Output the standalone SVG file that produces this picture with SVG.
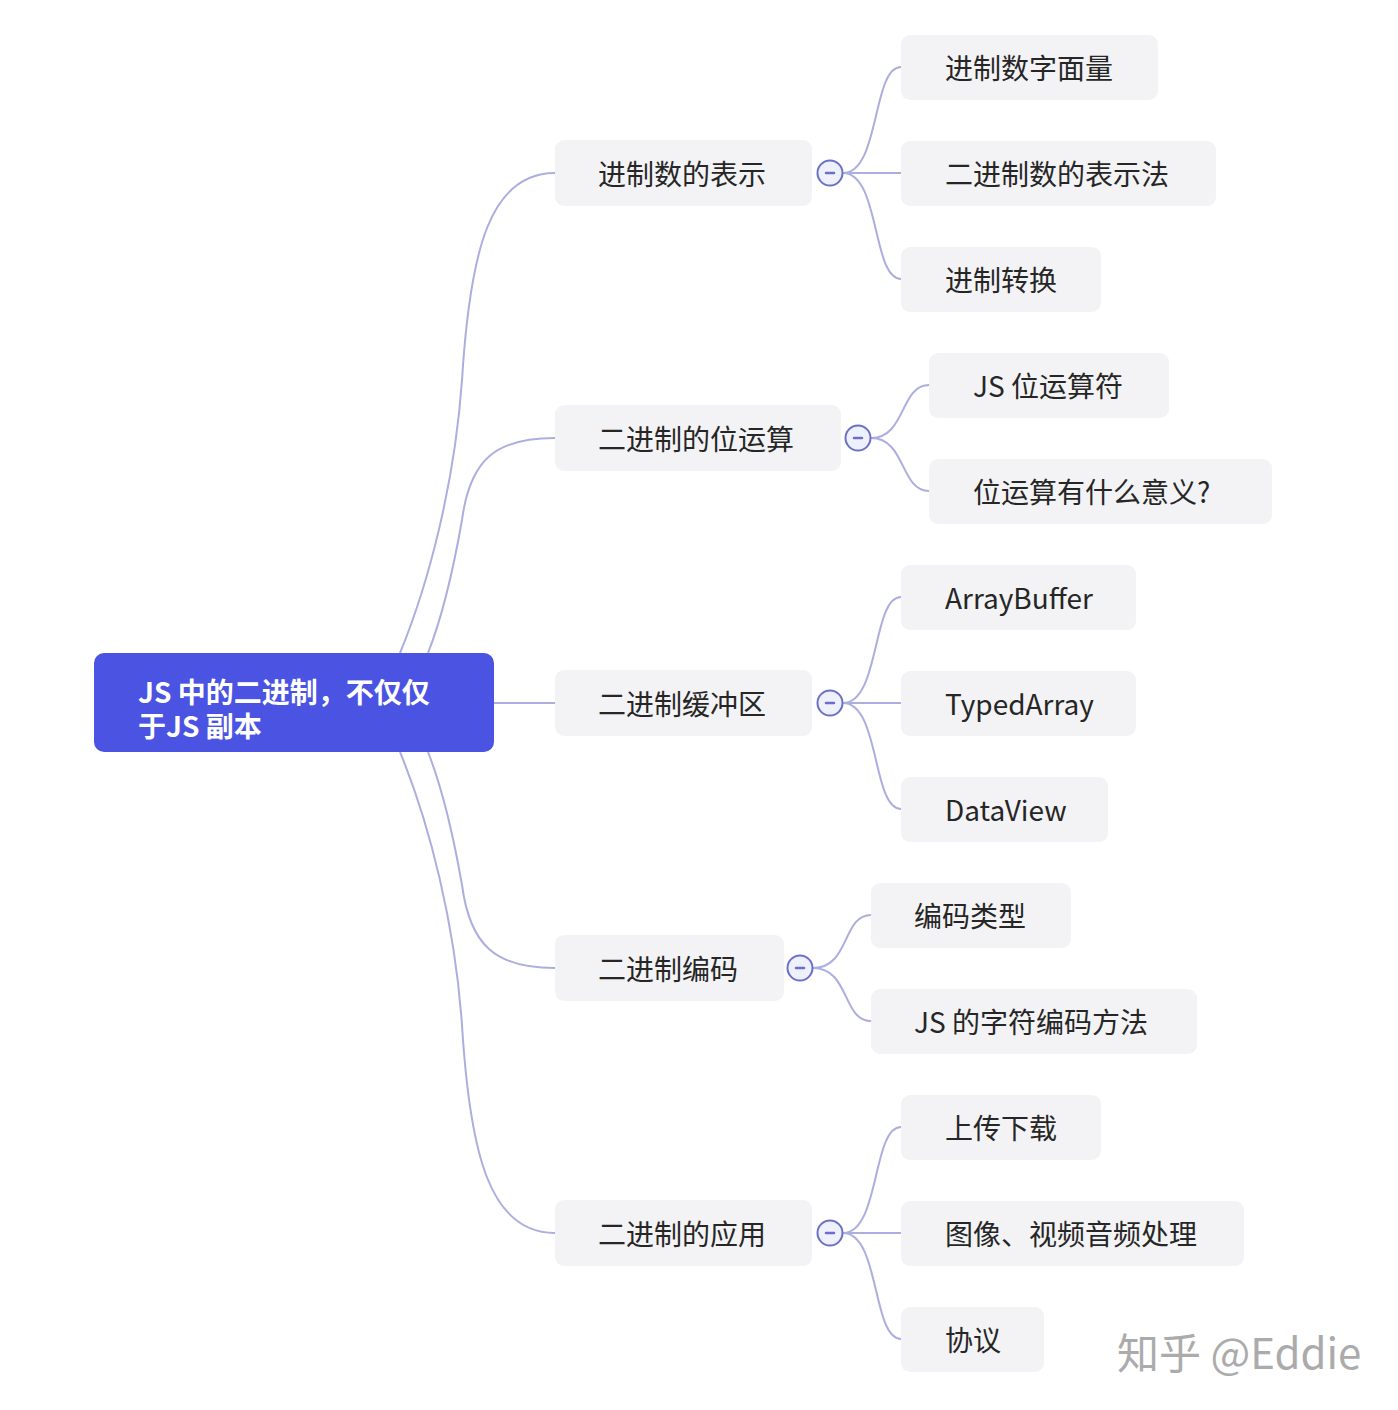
<svg xmlns="http://www.w3.org/2000/svg" width="1398" height="1410" viewBox="0 0 1398 1410">
<style>
.bg{fill:#ffffff}
.root{fill:#4a53e2}
.rt{font-family:"Noto Sans CJK SC","Noto Sans",sans-serif;font-weight:bold;font-size:28px;fill:#ffffff}
.n{fill:#f3f3f5}
.t{font-family:"Noto Sans CJK SC","Noto Sans",sans-serif;font-size:28px;fill:#262626;dominant-baseline:central}
.c{fill:none;stroke:#abaedf;stroke-width:2}
.tg{fill:#eef0fb;stroke:#6a70c8;stroke-width:2}
.tm{stroke:#6a70c8;stroke-width:2.5;stroke-linecap:round}
.wm{font-family:"Noto Sans CJK SC","Noto Sans",sans-serif;font-size:42px;fill:#ababab}
</style>
<rect class="bg" x="0" y="0" width="1398" height="1410"/>
<g id="connectors">
<path class="c" d="M400 653 C430 580 455 480 462 380 C470 250 490 173 555 173"/>
<path class="c" d="M428 653 C445 610 455 560 462 520 C470 460 495 438 555 438"/>
<path class="c" d="M494 703 L555 703"/>
<path class="c" d="M428 752 C445 795 455 845 462 885 C470 945 495 968 555 968"/>
<path class="c" d="M400 752 C430 825 455 925 462 1025 C470 1155 490 1233 555 1233"/>
<path class="c" d="M843 173 C880 173 872 67 901 67"/>
<path class="c" d="M843 173 L901 173"/>
<path class="c" d="M843 173 C880 173 872 279 901 279"/>
<path class="c" d="M871 438 C906 438 900 385 929 385"/>
<path class="c" d="M871 438 C906 438 900 491 929 491"/>
<path class="c" d="M843 703 C880 703 872 597 901 597"/>
<path class="c" d="M843 703 L901 703"/>
<path class="c" d="M843 703 C880 703 872 809 901 809"/>
<path class="c" d="M813 968 C850 968 842 915 871 915"/>
<path class="c" d="M813 968 C850 968 842 1021 871 1021"/>
<path class="c" d="M843 1233 C880 1233 872 1127 901 1127"/>
<path class="c" d="M843 1233 L901 1233"/>
<path class="c" d="M843 1233 C880 1233 872 1339 901 1339"/>
</g>
<g id="root">
<rect class="root" x="94" y="653" width="400" height="99" rx="10"/>
<text class="rt" x="138" y="703">JS 中的二进制，不仅仅<tspan x="138" dy="34">于JS 副本</tspan></text>
</g>
<g id="n1">
<rect class="n" x="555" y="140" width="257" height="66" rx="9"/>
<text class="t" x="598" y="173">进制数的表示</text>
<circle class="tg" cx="830" cy="173" r="12.5"/><line class="tm" x1="826" y1="173" x2="834" y2="173"/>
</g>
<g id="n2">
<rect class="n" x="555" y="405" width="286" height="66" rx="9"/>
<text class="t" x="598" y="438">二进制的位运算</text>
<circle class="tg" cx="858" cy="438" r="12.5"/><line class="tm" x1="854" y1="438" x2="862" y2="438"/>
</g>
<g id="n3">
<rect class="n" x="555" y="670" width="257" height="66" rx="9"/>
<text class="t" x="598" y="703">二进制缓冲区</text>
<circle class="tg" cx="830" cy="703" r="12.5"/><line class="tm" x1="826" y1="703" x2="834" y2="703"/>
</g>
<g id="n4">
<rect class="n" x="555" y="935" width="229" height="66" rx="9"/>
<text class="t" x="598" y="968">二进制编码</text>
<circle class="tg" cx="800" cy="968" r="12.5"/><line class="tm" x1="796" y1="968" x2="804" y2="968"/>
</g>
<g id="n5">
<rect class="n" x="555" y="1200" width="257" height="66" rx="9"/>
<text class="t" x="598" y="1233">二进制的应用</text>
<circle class="tg" cx="830" cy="1233" r="12.5"/><line class="tm" x1="826" y1="1233" x2="834" y2="1233"/>
</g>
<g id="n1a"><rect class="n" x="901" y="35" width="257" height="65" rx="9"/><text class="t" x="945" y="67">进制数字面量</text></g>
<g id="n1b"><rect class="n" x="901" y="141" width="315" height="65" rx="9"/><text class="t" x="945" y="173">二进制数的表示法</text></g>
<g id="n1c"><rect class="n" x="901" y="247" width="200" height="65" rx="9"/><text class="t" x="945" y="279">进制转换</text></g>
<g id="n2a"><rect class="n" x="929" y="353" width="240" height="65" rx="9"/><text class="t" x="973" y="385">JS 位运算符</text></g>
<g id="n2b"><rect class="n" x="929" y="459" width="343" height="65" rx="9"/><text class="t" x="973" y="491">位运算有什么意义?</text></g>
<g id="n3a"><rect class="n" x="901" y="565" width="235" height="65" rx="9"/><text class="t" x="945" y="597">ArrayBuffer</text></g>
<g id="n3b"><rect class="n" x="901" y="671" width="235" height="65" rx="9"/><text class="t" x="945" y="703">TypedArray</text></g>
<g id="n3c"><rect class="n" x="901" y="777" width="207" height="65" rx="9"/><text class="t" x="945" y="809">DataView</text></g>
<g id="n4a"><rect class="n" x="871" y="883" width="200" height="65" rx="9"/><text class="t" x="914" y="915">编码类型</text></g>
<g id="n4b"><rect class="n" x="871" y="989" width="326" height="65" rx="9"/><text class="t" x="914" y="1021">JS 的字符编码方法</text></g>
<g id="n5a"><rect class="n" x="901" y="1095" width="200" height="65" rx="9"/><text class="t" x="945" y="1127">上传下载</text></g>
<g id="n5b"><rect class="n" x="901" y="1201" width="343" height="65" rx="9"/><text class="t" x="945" y="1233">图像、视频音频处理</text></g>
<g id="n5c"><rect class="n" x="901" y="1307" width="143" height="65" rx="9"/><text class="t" x="945" y="1339">协议</text></g>
<g id="watermark"><text class="wm" x="1117" y="1369">知乎 @Eddie</text></g>
</svg>
